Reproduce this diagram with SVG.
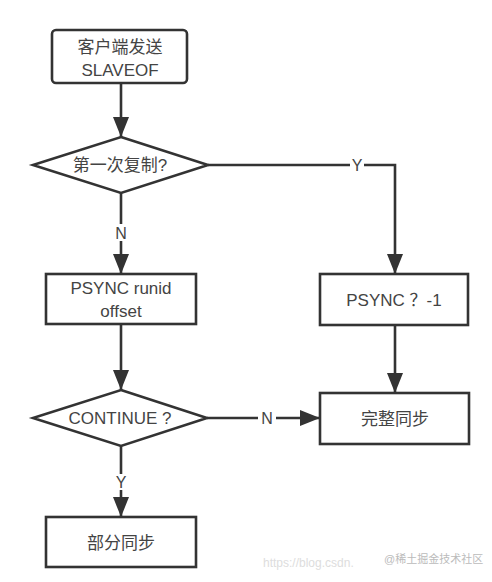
<svg xmlns="http://www.w3.org/2000/svg" width="492" height="582" viewBox="0 0 492 582">
<defs>
<marker id="arr" markerUnits="userSpaceOnUse" markerWidth="20" markerHeight="16" viewBox="0 0 20 16" refX="20" refY="8" orient="auto">
<path d="M0,0 L20,8 L0,16 z" fill="#333"/>
</marker>
</defs>
<style>
.shape{fill:#fff;stroke:#333;stroke-width:2.6}
.t{font-family:"Liberation Sans","Noto Sans CJK SC",sans-serif;font-size:17px;fill:#444;text-anchor:middle;dominant-baseline:central}
.lbl{font-family:"Liberation Sans","Noto Sans CJK SC",sans-serif;font-size:16px;fill:#444;text-anchor:middle;dominant-baseline:central}
.edge{fill:none;stroke:#333;stroke-width:2.6}
.wm{font-family:"Liberation Sans","Noto Sans CJK SC",sans-serif;font-size:12px;fill:#ddd}
</style>
<rect width="492" height="582" fill="#fff"/>
<g id="connectors">
<line class="edge" x1="121" y1="83" x2="121" y2="137" marker-end="url(#arr)"/>
<polyline class="edge" points="208,165 350,165"/>
<polyline class="edge" points="364,165 395,165 395,274" marker-end="url(#arr)"/>
<line class="edge" x1="121" y1="193" x2="121" y2="224"/>
<line class="edge" x1="121" y1="241" x2="121" y2="274" marker-end="url(#arr)"/>
<line class="edge" x1="121" y1="324" x2="121" y2="390" marker-end="url(#arr)"/>
<line class="edge" x1="207" y1="418" x2="258" y2="418"/>
<line class="edge" x1="276" y1="418" x2="320" y2="418" marker-end="url(#arr)"/>
<line class="edge" x1="395" y1="325" x2="395" y2="393" marker-end="url(#arr)"/>
<line class="edge" x1="121" y1="446" x2="121" y2="474"/>
<line class="edge" x1="121" y1="490" x2="121" y2="517" marker-end="url(#arr)"/>
<text class="lbl" x="357" y="165">Y</text>
<text class="lbl" x="121" y="233">N</text>
<text class="lbl" x="267" y="418">N</text>
<text class="lbl" x="121" y="482">Y</text>
</g>
<g id="start">
<rect class="shape" x="52" y="30" width="135" height="53" rx="4"/>
<text class="t" x="120" y="47">客户端发送</text>
<text class="t" x="120" y="70">SLAVEOF</text>
</g>
<g id="first-copy">
<polygon class="shape" points="121,137 208,165 121,193 33,165"/>
<text class="t" x="120" y="165">第一次复制?</text>
</g>
<g id="psync-runid">
<rect class="shape" x="46" y="274" width="150" height="50"/>
<text class="t" x="121" y="288">PSYNC runid</text>
<text class="t" x="121" y="311">offset</text>
</g>
<g id="psync-new">
<rect class="shape" x="320" y="274" width="148" height="51"/>
<text class="t" x="394" y="300">PSYNC ？-1</text>
</g>
<g id="continue">
<polygon class="shape" points="121,390 207,418 121,446 33,418"/>
<text class="t" x="120" y="418">CONTINUE ?</text>
</g>
<g id="full-sync">
<rect class="shape" x="320" y="393" width="149" height="51"/>
<text class="t" x="395" y="419">完整同步</text>
</g>
<g id="partial-sync">
<rect class="shape" x="46" y="517" width="150" height="50"/>
<text class="t" x="121" y="543">部分同步</text>
</g>
<g id="watermark">
<text class="wm" x="263" y="567">https://blog.csdn.</text>
<text class="wm" x="384" y="563" style="fill:#bbb;font-size:11px">@稀土掘金技术社区</text>
</g>
</svg>
